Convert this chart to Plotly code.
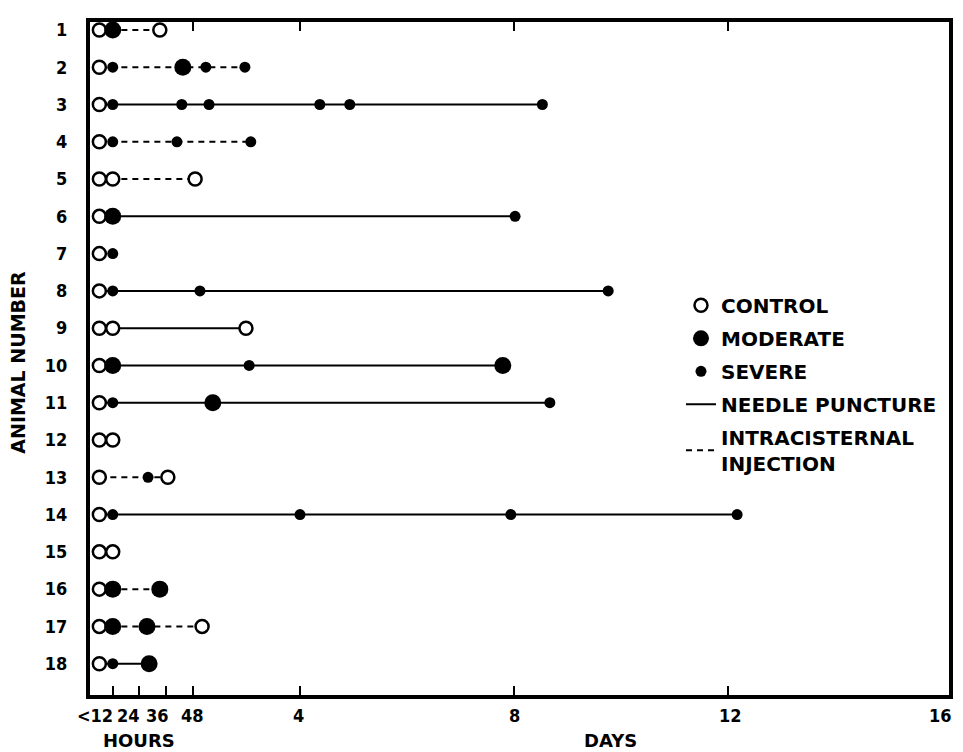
import plotly.graph_objects as go

# ---------------- data ----------------
animal_numbers = list(range(1, 19))
# route: "N" = needle puncture (solid), "I" = intracisternal injection (dashed), "" = none
route = ["I", "I", "N", "I", "I", "N", "", "N", "N", "N", "N", "", "I", "N", "", "I", "I", "N"]
# examination times in days (0.25 = "<12 h")
exam_days = [
    [0.25, 0.5, 1.38],
    [0.25, 0.5, 1.81, 2.24, 2.97],
    [0.25, 0.5, 1.79, 2.30, 4.37, 4.93, 8.53],
    [0.25, 0.5, 1.70, 3.08],
    [0.25, 0.5, 2.04],
    [0.25, 0.5, 8.02],
    [0.25, 0.5],
    [0.25, 0.5, 2.13, 9.76],
    [0.25, 0.5, 2.99],
    [0.25, 0.5, 3.05, 7.79],
    [0.25, 0.5, 2.37, 8.67],
    [0.25, 0.5],
    [0.25, 1.16, 1.53],
    [0.25, 0.5, 4.00, 7.94, 12.17],
    [0.25, 0.5],
    [0.25, 0.5, 1.38],
    [0.25, 0.5, 1.14, 2.17],
    [0.25, 0.5, 1.18],
]
# C = control, M = moderate, S = severe
exam_grade = [
    ["C", "M", "C"],
    ["C", "S", "M", "S", "S"],
    ["C", "S", "S", "S", "S", "S", "S"],
    ["C", "S", "S", "S"],
    ["C", "C", "C"],
    ["C", "M", "S"],
    ["C", "S"],
    ["C", "S", "S", "S"],
    ["C", "C", "C"],
    ["C", "M", "S", "M"],
    ["C", "S", "M", "S"],
    ["C", "C"],
    ["C", "S", "C"],
    ["C", "S", "S", "S", "S"],
    ["C", "C"],
    ["C", "M", "M"],
    ["C", "M", "M", "C"],
    ["C", "S", "M"],
]
bottom_tick_vals = [0.5, 1, 1.5, 2, 4, 8, 12, 16]
bottom_tick_text = ["<12", "24", "36", "48", "4", "8", "12", "16"]
top_tick_vals = [2, 4, 8, 12]

FONT = "DejaVu Sans"
NARROW = "Liberation Sans Narrow, DejaVu Sans Condensed, DejaVu Sans"
fig = go.Figure()

# ---- connecting lines ----
for code, dash, name, rank in [("N", "solid", "NEEDLE PUNCTURE", 4),
                               ("I", "6px,5px", "INTRACISTERNAL<br>INJECTION", 5)]:
    xs, ys = [], []
    for n, r, d in zip(animal_numbers, route, exam_days):
        if r == code:
            xs += d + [None]
            ys += [n] * len(d) + [None]
    fig.add_trace(go.Scatter(
        x=xs, y=ys, mode="lines", name=name, legendrank=rank, legendgroup=name,
        line=dict(color="black", width=2, dash=dash), hoverinfo="skip"))

# ---- markers ----
styles = {
    "C": dict(name="CONTROL", symbol="circle", size=13, color="white", lw=2.5, rank=1),
    "M": dict(name="MODERATE", symbol="circle", size=17, color="black", lw=0, rank=2),
    "S": dict(name="SEVERE", symbol="circle", size=11, color="black", lw=0, rank=3),
}
for g in ["C", "M", "S"]:
    st = styles[g]
    xs, ys = [], []
    for n, d, gr in zip(animal_numbers, exam_days, exam_grade):
        for xv, gv in zip(d, gr):
            if gv == g:
                xs.append(xv)
                ys.append(n)
    fig.add_trace(go.Scatter(
        x=xs, y=ys, mode="markers", name=st["name"], legendrank=st["rank"],
        legendgroup=st["name"],
        marker=dict(symbol=st["symbol"], size=st["size"], color=st["color"],
                    line=dict(color="black", width=st["lw"]))))

# invisible trace to activate top axis
fig.add_trace(go.Scatter(x=[], y=[], xaxis="x2", showlegend=False, hoverinfo="skip"))

xr = [0.075, 16.13]
fig.update_layout(
    width=963, height=752,
    margin=dict(l=82, r=22, t=10, b=65),
    paper_bgcolor="white", plot_bgcolor="white",
    font=dict(family=FONT, size=17, color="black"),
    xaxis=dict(range=xr, showgrid=False, zeroline=False, showline=True, linewidth=4,
               linecolor="black", mirror=True, ticks="inside", ticklen=9, tickwidth=2,
               tickcolor="black", tickvals=bottom_tick_vals[:-1], showticklabels=False),
    xaxis2=dict(range=xr, overlaying="x", side="top", showgrid=False, zeroline=False,
                showline=False, ticks="inside", ticklen=9, tickwidth=2, tickcolor="black",
                tickvals=top_tick_vals, showticklabels=False),
    yaxis=dict(range=[18.84, 0.787], showgrid=False, zeroline=False, showline=True,
               linewidth=4, linecolor="black", mirror=True, tickvals=animal_numbers,
               ticktext=[f"<b>{n}</b>" for n in animal_numbers],
               ticks="outside", ticklen=15, tickcolor="rgba(0,0,0,0)",
               tickfont=dict(family=NARROW, size=18)),
    legend=dict(x=0.688, y=0.608, xanchor="left", yanchor="top", bgcolor="rgba(0,0,0,0)",
                font=dict(family=FONT, size=20), tracegroupgap=4, itemwidth=30,
                traceorder="grouped"),
    showlegend=True,
)

# bottom tick labels (shifted left as in the original)
shifts = [-18, -11, -9, 0, -2, 0, 2, -2]
for v, t, s in zip(bottom_tick_vals, bottom_tick_text, shifts):
    fig.add_annotation(x=v, y=0, xref="x", yref="paper", text=f"<b>{t}</b>",
                       showarrow=False, xanchor="center", yanchor="middle",
                       xshift=s, yshift=-20, font=dict(family=NARROW, size=18))

fig.add_annotation(x=1.0, y=0, xref="x", yref="paper", text="<b>HOURS</b>",
                   showarrow=False, yanchor="middle", yshift=-45,
                   font=dict(family=FONT, size=18))
fig.add_annotation(x=9.8, y=0, xref="x", yref="paper", text="<b>DAYS</b>",
                   showarrow=False, yanchor="middle", yshift=-45,
                   font=dict(family=FONT, size=18))
fig.add_annotation(x=-0.084, y=0.495, xref="paper", yref="paper", text="<b>ANIMAL NUMBER</b>",
                   showarrow=False, textangle=-90, xanchor="center", yanchor="middle",
                   font=dict(family=FONT, size=19))

# bold legend labels
for tr in fig.data:
    if tr.name:
        tr.name = "<b>" + tr.name.replace("<br>", "</b><br><b>") + "</b>"

fig.write_html("out.html")
